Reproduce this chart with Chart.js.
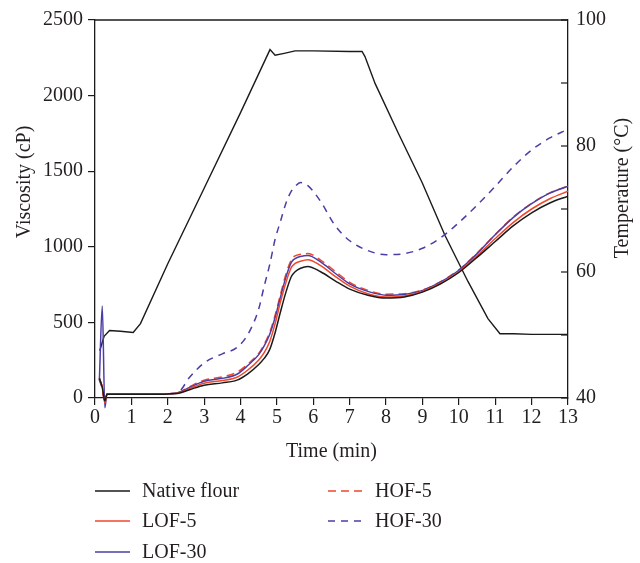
<!DOCTYPE html>
<html>
<head>
<meta charset="utf-8">
<script src="https://cdn.jsdelivr.net/npm/chart.js@4.4.0/dist/chart.umd.min.js"></script>
<style>
  html, body { margin: 0; padding: 0; background: #fff; }
  #wrap { width: 640px; height: 563px; }
</style>
</head>
<body>
<div id="wrap"><canvas id="rvaChart" width="640" height="563"></canvas></div>
<script>
// time (min) sampled along the pasting curves
const times = [0.12, 0.2, 0.27, 0.33, 0.5, 1.0, 1.5, 2.0, 2.3, 2.6, 3.0, 3.5, 3.9, 4.2, 4.5, 4.65, 4.8, 4.95, 5.1, 5.25, 5.4, 5.5, 5.65, 5.85, 6.2, 6.6, 7.0, 7.5, 8.0, 8.5, 9.0, 9.5, 10.0, 10.5, 11.0, 11.5, 12.0, 12.5, 13.0];

// viscosity (cP)
const nativeFlour = [130, 70, -20, 25, 25, 25, 25, 27, 32, 55, 85, 100, 118, 160, 222, 262, 320, 432, 572, 702, 805, 835, 858, 870, 835, 775, 720, 680, 661, 668, 700, 755, 830, 930, 1035, 1140, 1225, 1290, 1335];
const lof5 = [130, 72, -33, 26, 26, 26, 26, 28, 34, 62, 98, 115, 137, 185, 252, 300, 372, 492, 638, 766, 865, 890, 905, 915, 875, 805, 740, 690, 668, 675, 705, 760, 835, 940, 1055, 1162, 1250, 1318, 1368];
const lof30 = [118, 609, -65, 26, 26, 26, 26, 28, 36, 70, 111, 130, 157, 215, 287, 345, 420, 532, 670, 801, 898, 922, 936, 942, 900, 825, 755, 705, 680, 685, 712, 768, 845, 955, 1080, 1195, 1285, 1355, 1400];
const hof5 = [125, 70, -30, 26, 26, 26, 26, 28, 37, 75, 118, 140, 170, 225, 295, 355, 432, 547, 687, 821, 915, 940, 951, 955, 912, 838, 765, 712, 687, 690, 715, 770, 848, 958, 1082, 1198, 1288, 1357, 1402];
const hof30 = [120, 60, -20, 25, 25, 25, 25, 28, 40, 137, 232, 292, 334, 420, 590, 740, 880, 1050, 1170, 1290, 1370, 1400, 1425, 1405, 1300, 1140, 1040, 975, 948, 955, 990, 1060, 1160, 1275, 1400, 1530, 1640, 1720, 1778];

// temperature profile (°C)
const tempTimes = [0.13, 0.25, 0.4, 0.7, 1.05, 1.25, 2.0, 3.0, 4.0, 4.81, 4.95, 5.2, 5.5, 6.0, 7.0, 7.34, 7.42, 7.7, 8.33, 8.99, 9.62, 10.25, 10.8, 11.13, 11.5, 12.0, 13.0];
const temperature = [47.5, 49.8, 50.7, 50.6, 50.4, 51.8, 61.3, 73.3, 85.3, 95.3, 94.4, 94.7, 95.1, 95.1, 95.0, 95.0, 94.2, 89.9, 82.1, 74.2, 65.8, 58.5, 52.6, 50.2, 50.2, 50.1, 50.1];

const seriesNames = ['Native flour', 'LOF-5', 'LOF-30', 'HOF-5', 'HOF-30'];
const seriesValues = [nativeFlour, lof5, lof30, hof5, hof30];
const seriesColors = ['#1a1a1a', '#f0472a', '#4a3ea6', '#f0472a', '#4a3ea6'];
const seriesDash = [[], [], [], [8, 5], [7, 6]];

const serif = "'Liberation Serif', 'DejaVu Serif', serif";
const textColor = '#231f20';

function pairs(xs, ys) {
    return xs.map((x, i) => ({ x: x, y: ys[i] }));
}

const datasets = seriesNames.map((name, i) => ({
    label: name,
    data: pairs(times, seriesValues[i]),
    borderColor: seriesColors[i],
    borderWidth: 1.5,
    borderDash: seriesDash[i],
    pointRadius: 0,
    cubicInterpolationMode: 'monotone',
    yAxisID: 'y',
    clip: { left: 0, top: 0, right: 0, bottom: 12 }
}));

datasets.push({
    label: 'Temperature',
    data: pairs(tempTimes, temperature),
    borderColor: '#1a1a1a',
    borderWidth: 1.4,
    pointRadius: 0,
    tension: 0,
    yAxisID: 'y1'
});

// frame top, inward ticks on the right axis, the y titles and the two-column legend
const decorations = {
    id: 'decorations',
    afterDraw(chart) {
        const ctx = chart.ctx;
        const area = chart.chartArea;
        ctx.save();
        ctx.strokeStyle = '#1a1a1a';
        ctx.lineWidth = 1.3;
        ctx.beginPath();
        ctx.moveTo(area.left, area.top);
        ctx.lineTo(area.right, area.top);
        ctx.stroke();

        const y1 = chart.scales.y1;
        ctx.lineWidth = 1.2;
        y1.ticks.forEach(t => {
            const py = y1.getPixelForValue(t.value);
            ctx.beginPath();
            ctx.moveTo(area.right, py);
            ctx.lineTo(area.right - 7, py);
            ctx.stroke();
        });

        ctx.font = '20px ' + serif;
        ctx.fillStyle = textColor;
        ctx.textAlign = 'center';
        ctx.textBaseline = 'middle';
        [['Viscosity (cP)', 25, 182], ['Temperature (°C)', 623, 188]].forEach(([txt, x, y]) => {
            ctx.save();
            ctx.translate(x, y);
            ctx.rotate(-Math.PI / 2);
            ctx.fillText(txt, 0, 0);
            ctx.restore();
        });

        const colX = [95, 328];
        const rowY = [491, 521, 552];
        ctx.textAlign = 'left';
        chart.data.datasets.forEach((ds, i) => {
            if (ds.yAxisID !== 'y') return;
            const x = colX[i < 3 ? 0 : 1];
            const y = rowY[i < 3 ? i : i - 3];
            ctx.strokeStyle = ds.borderColor;
            ctx.lineWidth = 1.5;
            ctx.setLineDash(ds.borderDash);
            ctx.beginPath();
            ctx.moveTo(x, y);
            ctx.lineTo(x + 35, y);
            ctx.stroke();
            ctx.setLineDash([]);
            ctx.fillText(ds.label, x + 47, y + 1);
        });
        ctx.restore();
    }
};

const ctx = document.getElementById('rvaChart').getContext('2d');
const rvaChart = new Chart(ctx, {
    type: 'line',
    data: { datasets: datasets },
    options: {
        responsive: false,
        animation: false,
        layout: { padding: { top: 16, bottom: 95, left: 0, right: 0 } },
        plugins: {
            legend: { display: false },
            tooltip: { enabled: false }
        },
        scales: {
            x: {
                type: 'linear',
                min: 0,
                max: 13,
                afterFit: (scale) => { scale.height = 70; },
                border: { color: '#1a1a1a', width: 1.3 },
                grid: { drawOnChartArea: false, tickLength: 7, color: '#1a1a1a', lineWidth: 1.2 },
                ticks: { stepSize: 1, color: textColor, font: { family: serif, size: 20 }, padding: 1, maxRotation: 0, callback: (v) => String(v) },
                title: { display: true, text: 'Time (min)', color: textColor, font: { family: serif, size: 20 }, padding: { top: 4, bottom: 4 } }
            },
            y: {
                position: 'left',
                min: 0,
                max: 2500,
                afterFit: (scale) => { scale.width = 95; },
                border: { color: '#1a1a1a', width: 1.3 },
                grid: { drawOnChartArea: false, tickLength: 7, color: '#1a1a1a', lineWidth: 1.2 },
                ticks: { stepSize: 500, color: textColor, font: { family: serif, size: 20 }, padding: 5, callback: (v) => String(v) }
            },
            y1: {
                position: 'right',
                min: 40,
                max: 100,
                afterFit: (scale) => { scale.width = 72; },
                border: { color: '#1a1a1a', width: 1.3 },
                grid: { drawOnChartArea: false, drawTicks: false },
                ticks: {
                    stepSize: 10,
                    color: textColor,
                    font: { family: serif, size: 20 },
                    padding: 8,
                    callback: (v) => (v % 20 === 0 ? String(v) : '')
                }
            }
        }
    },
    plugins: [decorations]
});
</script>
</body>
</html>
